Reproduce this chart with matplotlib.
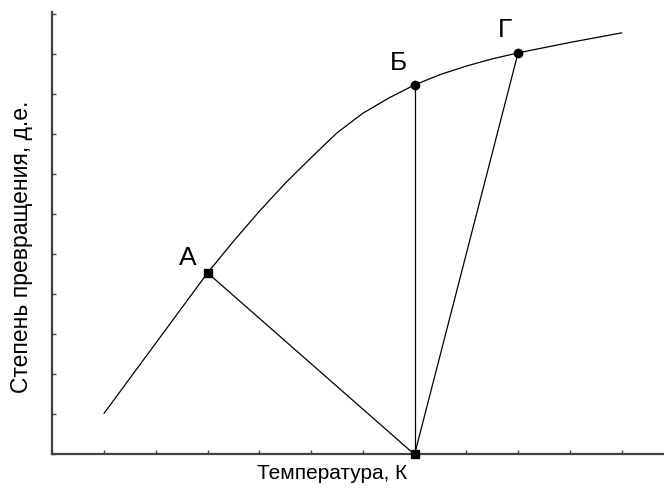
import matplotlib
matplotlib.use("Agg")
import matplotlib.pyplot as plt

plt.rcParams['font.family'] = ['Liberation Sans', 'DejaVu Sans']

# equilibrium curve: conversion vs temperature
curve_t = [1.0, 3.0, 3.5, 4.0, 4.5, 5.0, 5.5, 6.0, 6.5, 7.0, 7.5, 8.0, 8.5, 9.0, 10.0, 11.0]
curve_x = [1.03, 4.54, 5.33, 6.08, 6.78, 7.42, 8.04, 8.53, 8.91, 9.24, 9.50, 9.71, 9.89, 10.04, 10.30, 10.54]

# process path points
point_names = ['А', 'Б', 'Г']
point_t = [3.0, 7.0, 9.0]
point_x = [4.54, 9.24, 10.04]
base_t = 7.0
base_x = 0.0

fig = plt.figure(figsize=(6.64, 4.93), dpi=100)
ax = fig.add_axes([0.0788, 0.0781, 0.9212, 0.8966])

ax.plot(curve_t, curve_x, color='black', lw=0.9, solid_joinstyle='round')

# A -> base, base -> Б, base -> Г
ax.plot([point_t[0], base_t], [point_x[0], base_x], color='black', lw=0.9)
ax.plot([base_t, point_t[1]], [base_x, point_x[1]], color='black', lw=0.9)
ax.plot([base_t, point_t[2]], [base_x, point_x[2]], color='black', lw=0.9)

ax.plot(point_t[0], point_x[0], 's', color='black', ms=6, zorder=5)
ax.plot(base_t, base_x, 's', color='black', ms=6, zorder=5, clip_on=False)
ax.plot(point_t[1:], point_x[1:], 'o', color='black', ms=6, zorder=5)

offsets = [(-20, 15), (-16, 22), (-13, 23)]
for name, t, x, off in zip(point_names, point_t, point_x, offsets):
    ax.annotate(name, (t, x), xytext=off, textcoords='offset pixels',
                ha='center', va='center', fontsize=19)

ax.set_xlim(0, 11.82)
ax.set_ylim(0, 11.05)
ax.set_xticks(range(0, 12))
ax.set_yticks(range(0, 12))
ax.set_xticklabels([])
ax.set_yticklabels([])
ax.tick_params(direction='in', length=3, width=1, color='#404040')

for side in ['top', 'right']:
    ax.spines[side].set_visible(False)
for side in ['left', 'bottom']:
    ax.spines[side].set_color('#404040')
    ax.spines[side].set_linewidth(1.6)

ax.set_xlabel('Температура, К', fontsize=15)
ax.set_ylabel('Степень превращения, д.е.', fontsize=16.5)
ax.xaxis.set_label_coords(0.458, -0.022, transform=ax.transAxes)
ax.xaxis.label.set_va('top')
ax.yaxis.set_label_coords(-0.031, 0.469, transform=ax.transAxes)

fig.savefig('out.png', dpi=100)
